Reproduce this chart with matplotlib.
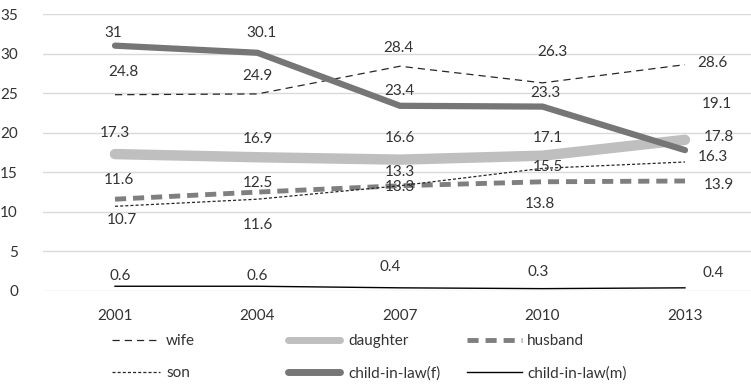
import matplotlib
matplotlib.use("Agg")
import matplotlib.pyplot as plt

plt.rcParams['font.family'] = ['Lato', 'DejaVu Sans']
plt.rcParams['lines.scale_dashes'] = False

years = ['2001', '2004', '2007', '2010', '2013']
wife = [24.8, 24.9, 28.4, 26.3, 28.6]
daughter = [17.3, 16.9, 16.6, 17.1, 19.1]
husband = [11.6, 12.5, 13.3, 13.8, 13.9]
son = [10.7, 11.6, 13.3, 15.5, 16.3]
child_in_law_f = [31, 30.1, 23.4, 23.3, 17.8]
child_in_law_m = [0.6, 0.6, 0.4, 0.3, 0.4]
y_ticks = [0, 5, 10, 15, 20, 25, 30, 35]

# label offsets in pixels (dx, dy) -- styling only
off_wife = [(8, 23), (0, 18), (-2, 18), (10, 31), (27, 2)]
off_daughter = [(0, 21), (0, 18), (0, 22), (5, 18), (32, 36)]
off_husband = [(4, 19), (0, 9), (0, -1), (-3, -22), (34, -4)]
off_son = [(7, -14), (0, -26), (0, 14), (5, 1), (28, 5)]
off_cf = [(-2, 13), (4, 20), (-1, 15), (3, 14), (34, 13)]
off_cm = [(5, 10), (0, 10), (-10, 21), (-4, 17), (28, 15)]

fig = plt.figure(figsize=(7.51, 3.88), dpi=100)
ax = fig.add_axes([43/751, 97/388, 708/751, 277/388])

x = list(range(len(years)))
series = [
    ('wife', wife, dict(color='#262626', lw=0.9, dashes=(5.2, 3.6)), off_wife),
    ('daughter', daughter, dict(color='#BFBFBF', lw=7.5, solid_capstyle='round'), off_daughter),
    ('husband', husband, dict(color='#7F7F7F', lw=3.5, dashes=(8, 5)), off_husband),
    ('son', son, dict(color='#262626', lw=0.9, dashes=(2.2, 1.5)), off_son),
    ('child-in-law(f)', child_in_law_f, dict(color='#767676', lw=4.5, solid_capstyle='round', solid_joinstyle='miter'), off_cf),
    ('child-in-law(m)', child_in_law_m, dict(color='#000000', lw=1.0), off_cm),
]
lines = {}
for name, vals, st, offs in series:
    ln, = ax.plot(x, vals, label=name, **st)
    lines[name] = ln
    for xi, v, (dx, dy) in zip(x, vals, offs):
        ax.annotate(f'{v:g}', (xi, v), xytext=(dx, dy), textcoords='offset pixels',
                    ha='center', va='center', fontsize=11, color='#333333')

ax.set_xlim(-(115-43)/142.5, 4 + (751-685)/142.5)
ax.set_ylim(0, 35)
ax.set_yticks(y_ticks)
ax.set_xticks(x)
ax.set_xticklabels(years)
ax.grid(axis='y', color='#D9D9D9', lw=1)
ax.set_axisbelow(True)
for s in ax.spines.values():
    s.set_visible(False)
ax.tick_params(axis='both', length=0, labelsize=11, labelcolor='#333333')
ax.tick_params(axis='y', pad=18)
ax.tick_params(axis='x', pad=13)

fs_px = 11 * 100 / 72
cols = [(['wife', 'son'], 112, 48, 6, None),
        (['daughter', 'child-in-law(f)'], 288, 52, 8, 5.0),
        (['husband', 'child-in-law(m)'], 467, 55, 5, None)]
for names, xpx, hl, tp, thick in cols:
    lg = fig.legend([lines[n] for n in names], names, loc='upper left',
                    bbox_to_anchor=(xpx/751, 1 - 334/388), frameon=False, fontsize=11,
                    handlelength=hl/fs_px, handletextpad=tp/fs_px, labelspacing=1.2,
                    borderpad=0, borderaxespad=0)
    for t in lg.get_texts():
        t.set_color('#333333')
    if thick:
        for h in lg.legend_handles:
            h.set_linewidth(thick)

fig.savefig('out.png', dpi=100)
